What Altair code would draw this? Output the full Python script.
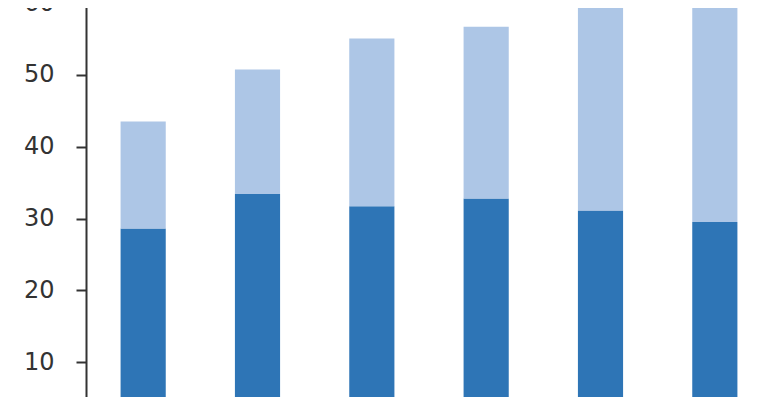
import altair as alt
import pandas as pd

categories = ["1", "2", "3", "4", "5", "6"]
series_names = ["Series 1", "Series 2"]
dark_values = [28.6, 33.4, 31.7, 32.8, 31.1, 29.5]
light_values = [14.9, 17.35, 23.35, 23.9, 28.55, 30.0]
colors = ["#2E75B6", "#ADC6E6"]
y_ticks = [10, 20, 30, 40, 50, 60]

rows = []
for i, c in enumerate(categories):
    rows.append({"cat": c, "series": series_names[0], "value": dark_values[i], "ord": 0})
    rows.append({"cat": c, "series": series_names[1], "value": light_values[i], "ord": 1})
df = pd.DataFrame(rows)

bars = alt.Chart(df).mark_bar().encode(
    x=alt.X("cat:N", sort=categories,
            scale=alt.Scale(paddingInner=0.605, paddingOuter=0.3025),
            axis=alt.Axis(title=None, labels=False, domain=False, ticks=False)),
    y=alt.Y("value:Q", stack="zero",
            scale=alt.Scale(domain=[0, 60], nice=False),
            axis=alt.Axis(title=None, values=y_ticks, grid=False,
                          domainColor="#333333", domainWidth=2,
                          tickColor="#333333", tickWidth=2, tickSize=10,
                          labelFont="DejaVu Sans", labelFontSize=24,
                          labelColor="#333333", labelPadding=22)),
    color=alt.Color("series:N", scale=alt.Scale(domain=series_names, range=colors), legend=None),
    order=alt.Order("ord:Q", sort="ascending"),
)

frame_df = pd.DataFrame({"k": [0]})
frame = alt.Chart(frame_df).mark_rule(color="#555555", strokeWidth=1.5).encode(
    x=alt.value(692), y=alt.value(-20), y2=alt.value(520)
)
frame_left = alt.Chart(frame_df).mark_rule(color="#555555", strokeWidth=1.5).encode(
    x=alt.value(-82), y=alt.value(-20), y2=alt.value(520)
)

chart = alt.layer(bars, frame, frame_left).properties(
    width=686, height=431,
    autosize=alt.AutoSizeParams(type="none"),
    padding={"left": 78, "top": -5, "right": 0, "bottom": -37},
).configure_view(stroke=None)

chart.save("out.html", embed_options={"renderer": "svg", "actions": False})
